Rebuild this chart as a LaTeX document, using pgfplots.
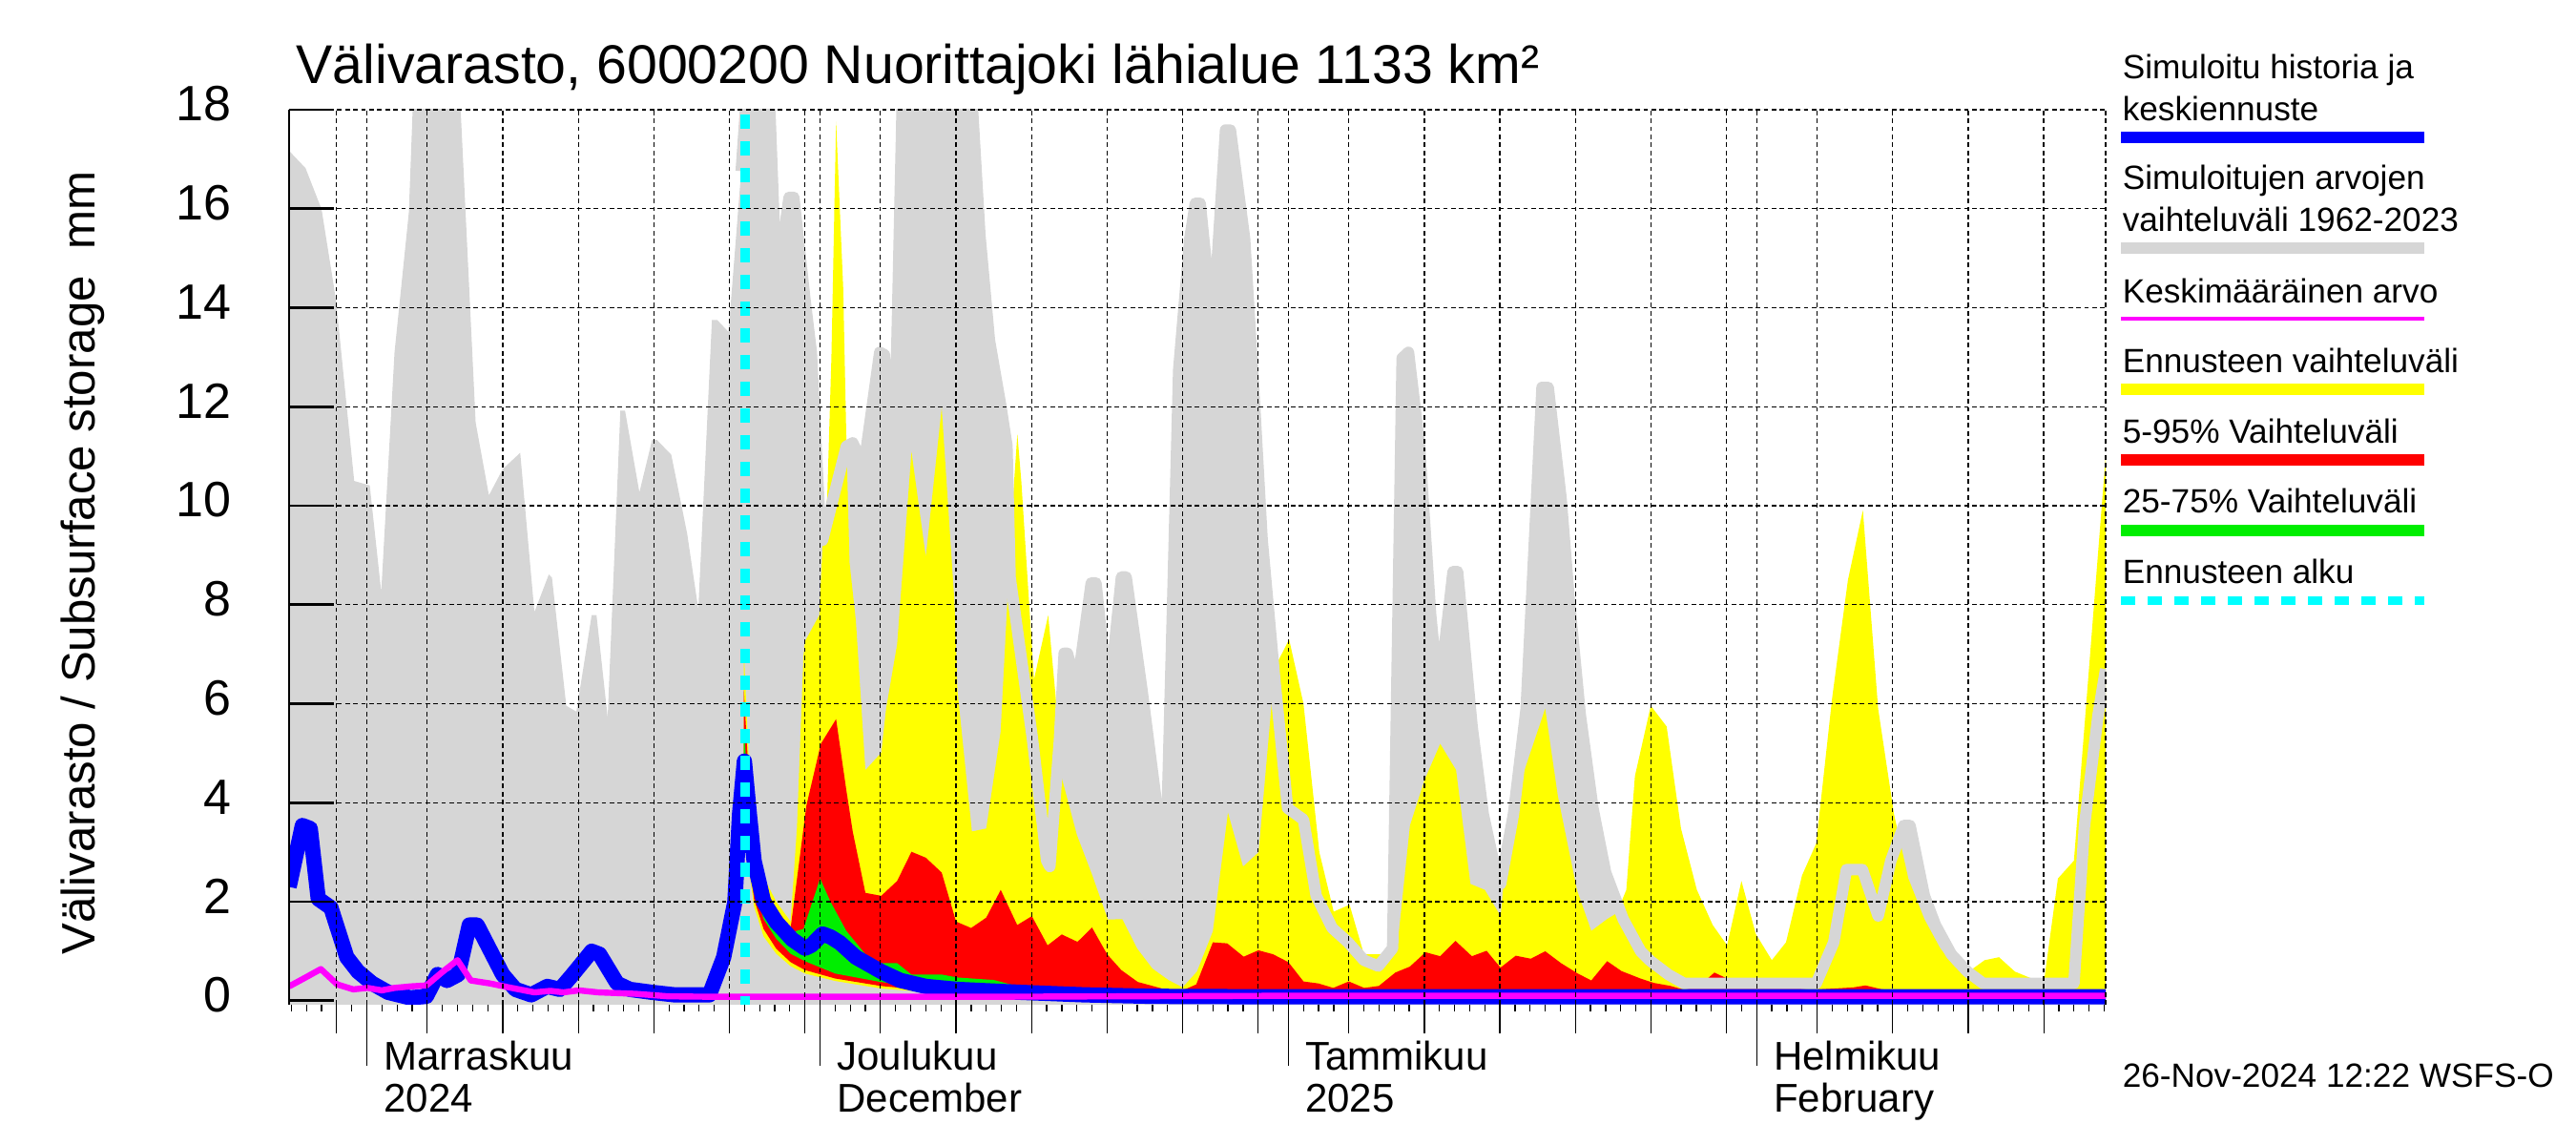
\documentclass[border=0pt]{standalone}
\usepackage{fontspec}
\setmainfont{Liberation Sans}
\usepackage{pgfplots}
\pgfplotsset{compat=1.18}
\definecolor{hgray}{RGB}{214,214,214}
\definecolor{fyellow}{RGB}{255,255,0}
\definecolor{fred}{RGB}{255,0,0}
\definecolor{fgreen}{RGB}{0,238,0}
\definecolor{hblue}{RGB}{0,0,255}
\definecolor{hmag}{RGB}{255,0,255}
\definecolor{hcyan}{RGB}{0,255,255}
\begin{document}
\begin{tikzpicture}
\path[use as bounding box] (0,0) rectangle (675pt,300pt);
\begin{axis}[
  at={(75.75pt,36.75pt)}, anchor=south west,
  scale only axis, width=476pt, height=234.5pt,
  xmin=-5.15, xmax=115.1, ymin=-0.08, ymax=18,
  axis on top,
  axis x line*=bottom, axis y line*=left,
  x axis line style={draw=none},
  y axis line style={black, line width=0.6pt, -},
  tick align=inside,
  major tick length=11.75pt,
  xtick={-2,0,4,9,14,19,24,29,30,34,39,44,49,54,59,61,65,70,75,80,85,90,92,96,101,106,111,115.1},
  xticklabels={},
  x tick style={draw=none},
  ytick={2,4,...,18},
  extra y ticks={0},
  extra y tick style={grid=none},
  y tick style={black, line width=0.7pt},
  xmajorgrids, ymajorgrids,
  grid style={black, line width=0.3pt, dash pattern=on 1.2pt off 0.9pt},
  yticklabel style={font=\fontsize{13}{13}\selectfont, inner sep=0pt, anchor=east, xshift=-15pt, yshift=1.5pt},
  /pgf/number format/assume math mode=true,
]
% historical range (gray)
\addplot[draw=none, fill=hgray] coordinates {(-5.15,-1) (-5.15,17.17) (-4.06,16.82) (-3.0,15.99) (-2.17,14.4) (-1.96,13.9) (-0.84,10.5) (0.19,10.41) (0.95,8.26) (1.83,13.1) (2.78,15.93) (3.15,19) (6.05,19) (7.2,11.68) (8.08,10.21) (8.99,10.74) (10.15,11.07) (11.09,7.85) (12.04,8.61) (12.25,8.55) (13.2,5.96) (13.87,5.84) (14.88,7.79) (15.2,7.79) (15.94,5.72) (16.78,11.92) (17.09,11.92) (18.04,10.27) (18.88,11.33) (19.2,11.33) (20.15,11.03) (21.2,9.44) (21.94,7.91) (22.84,13.75) (23.2,13.75) (23.94,13.51) (24.78,16.76) (25.2,18.6) (26.6,18.6) (27.11,14.4) (27.95,16.23) (28.26,16.23) (29.0,14.16) (29.42,13.1) (30.05,9.3) (30.16,9.3) (31.74,11.2) (32.16,11.27) (32.9,10.8) (33.95,13.1) (34.26,13.05) (34.9,10.68) (35.5,19) (39.9,19) (40.58,15.46) (41.21,13.34) (41.95,12.04) (42.37,11.21) (42.58,8.55) (44.05,5.31) (45.0,2.83) (45.21,2.71) (45.84,5.25) (46.16,7.02) (46.37,7.02) (47.0,6.31) (47.95,8.44) (48.26,8.44) (49.1,6.02) (49.95,8.56) (50.26,8.56) (51.32,6.25) (52.26,4.01) (52.9,2.89) (53.74,12.75) (54.48,15.4) (54.84,16.11) (55.16,16.11) (56.0,13.57) (56.84,17.59) (57.16,17.59) (58.1,15.4) (58.74,12.16) (59.26,9.32) (60.1,6.49) (60.95,3.89) (62.0,3.66) (62.84,2.12) (63.9,1.47) (64.95,1.18) (66.0,0.82) (66.95,0.70) (67.9,1.06) (68.53,12.98) (68.95,13.1) (69.68,11.21) (70.42,7.79) (70.95,6.13) (71.9,8.67) (72.2,8.67) (73.16,5.54) (73.9,3.77) (74.74,2.59) (75.05,2.36) (75.9,3.77) (76.74,5.9) (77.79,12.39) (78.2,12.39) (79.05,10.15) (79.58,8.14) (80.32,5.78) (81.16,3.89) (82.0,2.59) (83.16,1.65) (84.32,1.0) (84.9,0.82) (86.15,0.53) (87.2,0.35) (95.94,0.35) (97.1,1.18) (97.94,2.65) (99.0,2.65) (100.04,1.71) (100.88,2.83) (101.73,3.54) (102.15,3.54) (103.1,2.12) (103.83,1.53) (104.88,0.94) (105.94,0.59) (107.0,0.35) (113.0,0.35) (113.7,3.54) (114.6,5.78) (115.1,6.7) (115.1,-1)};
% forecast range (yellow)
\addplot[draw=none, fill=fyellow] coordinates {(24.95,7.1) (25.32,4.6) (25.63,3.4) (26.26,2.5) (27.1,2.0) (28.05,1.6) (28.47,3.5) (28.9,6.96) (29.0,7.26) (29.95,7.79) (30.16,9.2) (30.47,10.15) (30.75,13) (31.06,17.76) (31.53,14.4) (31.74,11.33) (31.95,8.85) (32.37,7.67) (33.0,4.66) (34.05,5.01) (34.37,5.9) (35.1,7.2) (36.05,11.09) (37.0,8.97) (38.05,11.98) (38.9,8.03) (39.1,6.25) (40.05,3.42) (41.0,3.48) (41.95,5.43) (42.69,9.8) (43.06,11.45) (43.32,10.5) (44.16,6.49) (45.1,7.79) (45.63,6.02) (46.0,4.5) (47.0,3.35) (48.0,2.55) (49.05,1.64) (50.0,1.65) (51.0,1.05) (52.0,0.65) (53.05,0.42) (54.0,0.27) (54.95,0.59) (56.0,1.4) (57.0,3.8) (58.0,2.71) (59.03,3.0) (60.1,6.73) (61.05,7.3) (62.0,6.0) (63.05,3.0) (64.0,1.8) (65.05,1.94) (66.0,0.94) (67.47,0.94) (68.2,1.06) (69.05,3.54) (70.0,4.45) (71.05,5.19) (72.1,4.66) (73.05,2.36) (74.0,2.24) (75.05,1.71) (76.0,4.9) (76.63,4.66) (78.0,5.9) (78.84,4.13) (80.1,2.24) (81.05,1.41) (82.1,1.65) (82.74,1.77) (83.37,2.24) (83.94,4.54) (84.99,5.96) (86.04,5.54) (86.99,3.48) (88.04,2.24) (89.09,1.53) (90.04,1.12) (90.99,2.42) (91.94,1.35) (93.0,0.82) (93.94,1.18) (95.0,2.53) (95.94,3.18) (97.0,6.13) (98.04,8.5) (99.03,9.91) (100.04,5.9) (101.09,3.77) (102.04,2.47) (103.1,1.65) (104.15,1.06) (105.09,0.7) (106.04,0.59) (107.09,0.82) (108.04,0.88) (109.09,0.59) (110.04,0.47) (111.0,0.35) (111.94,2.47) (113.0,2.83) (113.94,6.49) (115.1,11.0) (115.1,0.05) (45,0.08) (38,0.15) (34,0.25) (31,0.4) (29,0.55) (28.05,0.7) (27.1,0.95) (26.26,1.3) (25.63,1.9) (25.32,2.6) (24.95,3.3)};
% 5-95 % (red)
\addplot[draw=none, fill=fred] coordinates {(24.95,6.3) (25.32,4.3) (25.63,3.2) (26.26,2.35) (27.1,1.85) (28.05,1.47) (29.1,3.95) (30.05,5.19) (31.06,5.69) (31.74,4.25) (32.16,3.42) (33.0,2.18) (34.05,2.12) (35.1,2.42) (36.05,3.01) (37.0,2.89) (38.05,2.59) (39.0,1.6) (40.0,1.47) (41.0,1.68) (41.96,2.24) (43.05,1.53) (44.02,1.71) (45.06,1.12) (46.0,1.34) (47.04,1.19) (48.0,1.48) (49.0,0.94) (49.94,0.62) (51.03,0.38) (52.0,0.30) (53.08,0.21) (54.0,0.21) (54.9,0.33) (56.0,1.18) (56.95,1.16) (58.04,0.89) (59.01,1.02) (59.98,0.94) (61.0,0.78) (62.0,0.39) (62.99,0.35) (63.97,0.26) (65.0,0.39) (66.02,0.26) (66.99,0.30) (68.08,0.57) (69.04,0.69) (70.08,0.98) (71.05,0.9) (72.06,1.21) (73.15,0.9) (74.12,1.01) (75.04,0.67) (76.05,0.91) (77.05,0.85) (78.0,1.0) (79.05,0.76) (80.1,0.56) (81.05,0.41) (82.1,0.8) (83.05,0.6) (84.3,0.45) (85.2,0.36) (86.3,0.3) (87.2,0.22) (88.2,0.3) (89.2,0.57) (90.1,0.44) (91.2,0.29) (94.2,0.27) (95.6,0.22) (98.4,0.27) (99.2,0.31) (100.3,0.23) (102,0.2) (110,0.17) (115.1,0.17) (115.1,0.06) (45,0.1) (38,0.18) (34,0.3) (31,0.45) (29,0.62) (28.05,0.78) (27.1,1.05) (26.26,1.45) (25.63,2.05) (25.32,2.8) (24.95,3.5)};
% 25-75 % (green)
\addplot[draw=none, fill=fgreen] coordinates {(24.95,5.5) (25.32,4.0) (25.63,3.05) (26.26,2.2) (27.1,1.75) (28.05,1.38) (28.9,1.45) (30.0,2.47) (30.69,2.0) (31.74,1.41) (33.0,0.94) (34.05,0.76) (35.1,0.76) (36.05,0.53) (38.05,0.53) (39.1,0.47) (40.05,0.45) (41.5,0.42) (43,0.3) (44.05,0.29) (45.4,0.23) (47.5,0.2) (49.6,0.17) (52,0.13) (115.1,0.11) (115.1,0.08) (45,0.12) (38,0.23) (34,0.38) (31,0.55) (29,0.8) (28.05,0.95) (27.1,1.25) (26.26,1.65) (25.63,2.3) (25.32,3.1) (24.95,3.9)};
% upper edge of historical range over the forecast
\addplot[hgray, line width=3pt, line join=round] coordinates {(24.78,16.76) (25.2,18.6) (26.6,18.6) (27.11,14.4) (27.95,16.23) (28.26,16.23) (29.0,14.16) (29.42,13.1) (30.05,9.3) (30.16,9.3) (31.74,11.2) (32.16,11.27) (32.9,10.8) (33.95,13.1) (34.26,13.05) (34.9,10.68) (35.5,19) (39.9,19) (40.58,15.46) (41.21,13.34) (41.95,12.04) (42.37,11.21) (42.58,8.55) (44.05,5.31) (45.0,2.83) (45.21,2.71) (45.84,5.25) (46.16,7.02) (46.37,7.02) (47.0,6.31) (47.95,8.44) (48.26,8.44) (49.1,6.02) (49.95,8.56) (50.26,8.56) (51.32,6.25) (52.26,4.01) (52.9,2.89) (53.74,12.75) (54.48,15.4) (54.84,16.11) (55.16,16.11) (56.0,13.57) (56.84,17.59) (57.16,17.59) (58.1,15.4) (58.74,12.16) (59.26,9.32) (60.1,6.49) (60.95,3.89) (62.0,3.66) (62.84,2.12) (63.9,1.47) (64.95,1.18) (66.0,0.82) (66.95,0.70) (67.9,1.06) (68.53,12.98) (68.95,13.1) (69.68,11.21) (70.42,7.79) (70.95,6.13) (71.9,8.67) (72.2,8.67) (73.16,5.54) (73.9,3.77) (74.74,2.59) (75.05,2.36) (75.9,3.77) (76.74,5.9) (77.79,12.39) (78.2,12.39) (79.05,10.15) (79.58,8.14) (80.32,5.78) (81.16,3.89) (82.0,2.59) (83.16,1.65) (84.32,1.0) (84.9,0.82) (86.15,0.53) (87.2,0.35) (95.94,0.35) (97.1,1.18) (97.94,2.65) (99.0,2.65) (100.04,1.71) (100.88,2.83) (101.73,3.54) (102.15,3.54) (103.1,2.12) (103.83,1.53) (104.88,0.94) (105.94,0.59) (107.0,0.35) (113.0,0.35) (113.7,3.54) (114.6,5.78) (115.1,6.7)};
% simulated history and median forecast (blue)
\addplot[hblue, line width=4pt, line join=round] coordinates {(-5.15,2.3) (-4.27,3.54) (-3.75,3.48) (-3.22,2.06) (-2.38,1.88) (-1.33,0.88) (-0.59,0.59) (0.36,0.35) (1.41,0.17) (2.88,0.06) (3.94,0.09) (4.67,0.53) (5.3,0.41) (6.04,0.53) (6.78,1.53) (7.3,1.53) (8.99,0.53) (9.83,0.23) (10.88,0.12) (11.94,0.29) (12.78,0.23) (13.62,0.53) (14.88,1.0) (15.4,0.94) (16.57,0.35) (17.41,0.23) (18.88,0.17) (20.36,0.12) (22.67,0.12) (23.62,0.88) (24.36,2.0) (24.67,3.77) (24.99,4.84) (25.32,3.77) (25.63,2.83) (26.26,2.0) (27.1,1.59) (28.15,1.24) (29.0,1.06) (29.42,1.12) (30.16,1.35) (30.69,1.29) (31.32,1.17) (32.37,0.88) (34.05,0.59) (35.32,0.41) (37.0,0.29) (39.1,0.23) (43.32,0.17) (47.5,0.12) (52,0.09) (60,0.08) (115.1,0.08)};
% mean (magenta)
\addplot[hmag, line width=1.6pt, line join=round] coordinates {(-5.15,0.29) (-4.06,0.47) (-3.05,0.64) (-1.96,0.33) (-0.9,0.23) (0.04,0.26) (0.99,0.21) (1.83,0.26) (2.88,0.29) (3.94,0.31) (4.99,0.58) (6.0,0.82) (6.88,0.41) (8.15,0.35) (9.41,0.27) (11.09,0.17) (12.15,0.2) (13.0,0.17) (14.04,0.21) (15.3,0.17) (17.83,0.14) (19.94,0.09) (23.1,0.08) (30,0.08) (40,0.08) (50,0.09) (60,0.1) (115.1,0.1)};
% forecast start
\addplot[hcyan, line width=2.5pt, dash pattern=on 3.7pt off 3.3pt] coordinates {(25.05,17.9) (25.05,-0.08)};
\end{axis}
\begin{axis}[
  at={(75.75pt,36.75pt)}, anchor=south west,
  scale only axis, width=476pt, height=234.5pt,
  xmin=-5.15, xmax=115.1, ymin=-0.08, ymax=18,
  axis x line*=bottom, axis y line=none,
  x axis line style={draw=none},
  tick align=outside,
  xtick={0,30,61,92},
  xticklabels={{Marraskuu\\2024},{Joulukuu\\December},{Tammikuu\\2025},{Helmikuu\\February}},
  major tick length=16pt,
  minor xtick={-5,-4,...,115},
  minor tick length=1.75pt,
  extra x ticks={-2,4,9,14,19,24,29,34,39,44,49,54,59,65,70,75,80,85,90,96,101,106,111},
  extra x tick labels={},
  extra x tick style={major tick length=7.5pt},
  x tick style={black, line width=0.3pt},
  xticklabel style={anchor=north west, align=left, inner sep=0pt, xshift=4.25pt, yshift=6.65pt, font=\fontsize{10.5}{11}\selectfont},
]
\end{axis}
% title and axis label
\node[anchor=base west, inner sep=0pt, font=\fontsize{14.3}{16}\selectfont] at (77.5pt,278pt) {Välivarasto, 6000200 Nuorittajoki lähialue 1133 km²};
\node[rotate=90, anchor=base, inner sep=0pt, font=\fontsize{12.3}{14}\selectfont] at (24.75pt,152.5pt) {Välivarasto / Subsurface storage\ \ mm};
% legend
\begin{scope}[font=\fontsize{8.8}{10.9}\selectfont]
\node[anchor=base west, inner sep=0pt] at (556pt,279.25pt) {Simuloitu historia ja};
\node[anchor=base west, inner sep=0pt] at (556pt,268.25pt) {keskiennuste};
\draw[hblue, line width=3pt] (555.75pt,264.1pt) -- (635.25pt,264.1pt);
\node[anchor=base west, inner sep=0pt] at (556pt,250.25pt) {Simuloitujen arvojen};
\node[anchor=base west, inner sep=0pt] at (556pt,239.25pt) {vaihteluväli 1962-2023};
\draw[hgray, line width=3pt] (555.75pt,235pt) -- (635.25pt,235pt);
\node[anchor=base west, inner sep=0pt] at (556pt,220.5pt) {Keskimääräinen arvo};
\draw[hmag, line width=1.2pt] (555.75pt,216.5pt) -- (635.25pt,216.5pt);
\node[anchor=base west, inner sep=0pt] at (556pt,202.25pt) {Ennusteen vaihteluväli};
\draw[fyellow, line width=3pt] (555.75pt,198pt) -- (635.25pt,198pt);
\node[anchor=base west, inner sep=0pt] at (556pt,183.75pt) {5-95\% Vaihteluväli};
\draw[fred, line width=3pt] (555.75pt,179.5pt) -- (635.25pt,179.5pt);
\node[anchor=base west, inner sep=0pt] at (556pt,165.5pt) {25-75\% Vaihteluväli};
\draw[fgreen, line width=3pt] (555.75pt,161pt) -- (635.25pt,161pt);
\node[anchor=base west, inner sep=0pt] at (556pt,147pt) {Ennusteen alku};
\draw[hcyan, line width=2.3pt, dash pattern=on 3.7pt off 3.3pt] (555.75pt,142.6pt) -- (635.25pt,142.6pt);
\node[anchor=base west, inner sep=0pt] at (556pt,15.25pt) {26-Nov-2024 12:22 WSFS-O};
\end{scope}
\end{tikzpicture}
\end{document}
